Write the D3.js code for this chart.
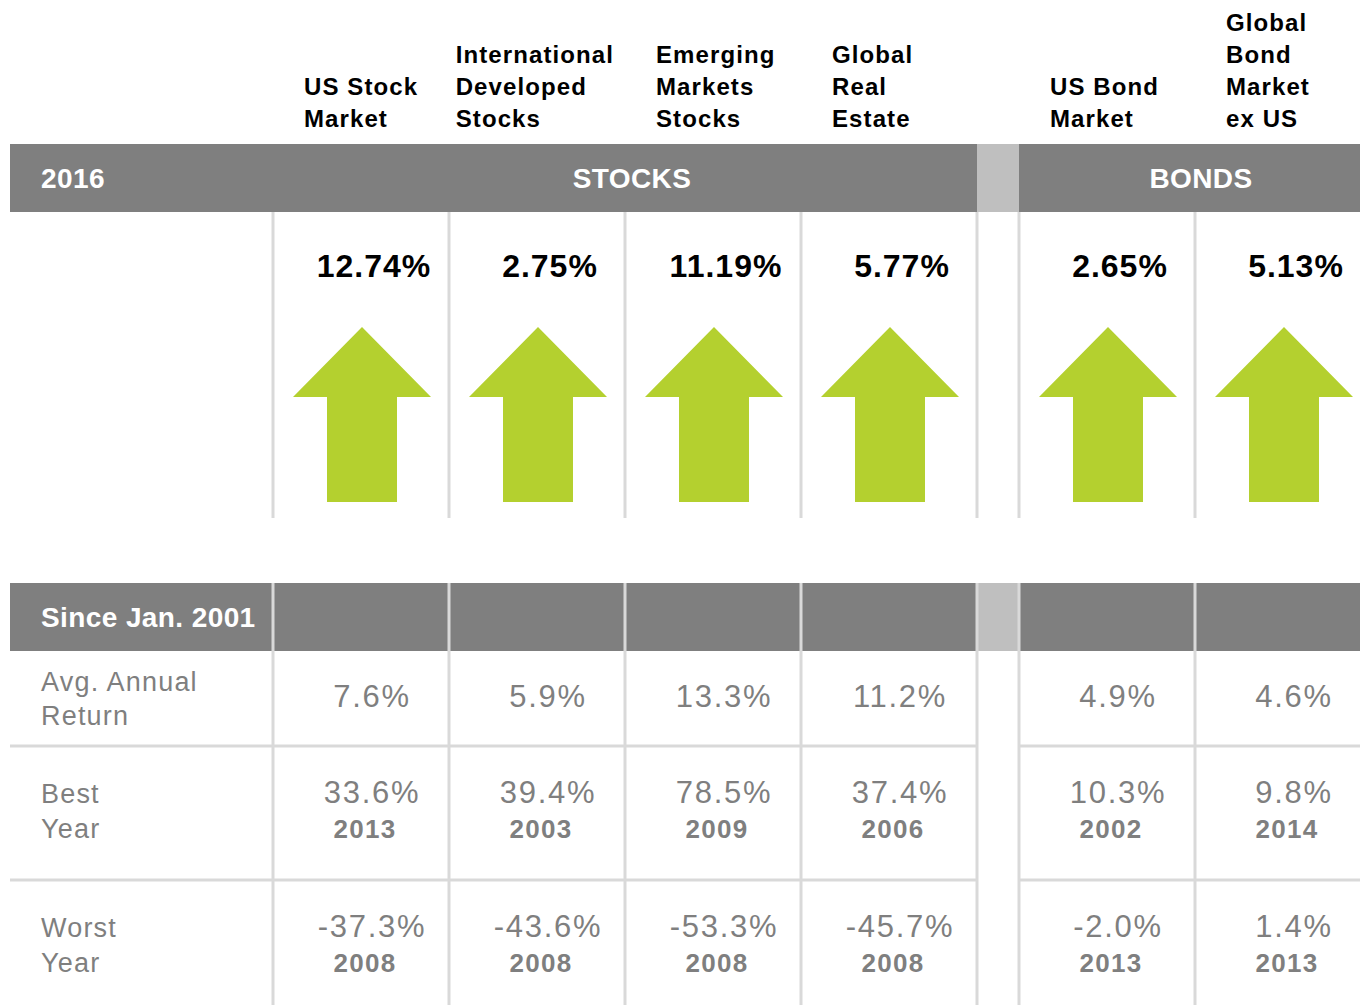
<!DOCTYPE html>
<html>
<head>
<meta charset="utf-8">
<script src="https://cdn.jsdelivr.net/npm/d3@7"></script>
<style>
  body { margin: 0; background: #fff; }
  svg text { font-family: "Liberation Sans", Arial, sans-serif; }
</style>
</head>
<body>
<div id="chart"></div>
<script>
// data
var stockNames = ["US Stock Market", "International Developed Stocks", "Emerging Markets Stocks", "Global Real Estate"];
var bondNames = ["US Bond Market", "Global Bond Market ex US"];
var headerLines = [
  ["US Stock", "Market"],
  ["International", "Developed", "Stocks"],
  ["Emerging", "Markets", "Stocks"],
  ["Global", "Real", "Estate"],
  ["US Bond", "Market"],
  ["Global", "Bond", "Market", "ex US"]
];
var return2016 = ["12.74%", "2.75%", "11.19%", "5.77%", "2.65%", "5.13%"];
var avgAnnual = ["7.6%", "5.9%", "13.3%", "11.2%", "4.9%", "4.6%"];
var bestValue = ["33.6%", "39.4%", "78.5%", "37.4%", "10.3%", "9.8%"];
var bestYear = ["2013", "2003", "2009", "2006", "2002", "2014"];
var worstValue = ["-37.3%", "-43.6%", "-53.3%", "-45.7%", "-2.0%", "1.4%"];
var worstYear = ["2008", "2008", "2008", "2008", "2013", "2013"];
var rowLabels = [["Avg. Annual", "Return"], ["Best", "Year"], ["Worst", "Year"]];

(function(){
  var width = 1360, height = 1005;
  var dark = "#7f7f7f", light = "#bfbfbf", rule = "#d9d9d9", green = "#b4d02f";

  var svg = d3.select("#chart").append("svg")
    .attr("width", width)
    .attr("height", height);

  // columns: stocks block, a gap, bonds block
  var xStock = d3.scaleBand().domain(stockNames).range([273, 977]);
  var xBond = d3.scaleBand().domain(bondNames).range([1019, 1371]);
  var allNames = stockNames.concat(bondNames);
  function colX(i){
    var n = allNames[i];
    return i < stockNames.length ? xStock(n) : xBond(n);
  }
  var colW = xStock.bandwidth();
  function colC(i){ return colX(i) + colW / 2; }

  var band1 = {y: 144, h: 68};
  var band2 = {y: 583, h: 68};
  var rowTops = [651, 746, 880, 1005];

  // header bands
  [band1, band2].forEach(function(b){
    svg.append("rect").attr("x", 10).attr("y", b.y).attr("width", width - 10).attr("height", b.h).attr("fill", dark);
    svg.append("rect").attr("x", xStock.range()[1]).attr("y", b.y).attr("width", xBond.range()[0] - xStock.range()[1]).attr("height", b.h).attr("fill", light);
  });

  // vertical rules
  var lineXs = stockNames.map(function(n){ return xStock(n); }).concat([xStock.range()[1]]).concat(bondNames.map(function(n){ return xBond(n); }));
  svg.selectAll(".vtop").data(lineXs).enter().append("line")
    .attr("x1", function(d){ return d; }).attr("x2", function(d){ return d; })
    .attr("y1", band1.y + band1.h).attr("y2", 518)
    .attr("stroke", rule).attr("stroke-width", 3);
  svg.selectAll(".vbot").data(lineXs).enter().append("line")
    .attr("x1", function(d){ return d; }).attr("x2", function(d){ return d; })
    .attr("y1", band2.y).attr("y2", height)
    .attr("stroke", rule).attr("stroke-width", 3);

  // horizontal rules between rows (skip the gap)
  [rowTops[1], rowTops[2]].forEach(function(y){
    svg.append("line").attr("x1", 10).attr("x2", xStock.range()[1]).attr("y1", y).attr("y2", y)
      .attr("stroke", rule).attr("stroke-width", 3);
    svg.append("line").attr("x1", xBond.range()[0]).attr("x2", width).attr("y1", y).attr("y2", y)
      .attr("stroke", rule).attr("stroke-width", 3);
  });

  // column headers, bottom aligned
  headerLines.forEach(function(lines, i){
    var g = svg.append("g");
    var n = lines.length;
    var t = g.selectAll("text").data(lines).enter().append("text")
      .attr("y", function(d, j){ return 127 - (n - 1 - j) * 32; })
      .attr("font-size", 24).attr("font-weight", "bold").attr("letter-spacing", 1.1)
      .attr("fill", "#000")
      .text(function(d){ return d; });
    var w = d3.max(t.nodes(), function(nd){ return nd.getComputedTextLength(); });
    var off = Math.min(31, colW - w - 11);
    t.attr("x", colX(i) + off);
  });

  // band titles
  function bandTitle(x, y, anchor, txt){
    svg.append("text").attr("x", x).attr("y", y).attr("fill", "#fff")
      .attr("text-anchor", anchor).attr("font-size", 28).attr("font-weight", "bold").attr("letter-spacing", 0.4)
      .text(txt);
  }
  bandTitle(41, 188, "start", "2016");
  bandTitle((xStock.range()[0] + xStock.range()[1]) / 2 + 7, 188, "middle", "STOCKS");
  bandTitle((xBond.range()[0] + xBond.range()[1]) / 2 + 6, 188, "middle", "BONDS");
  bandTitle(41, 627, "start", "Since Jan. 2001");

  // 2016 returns
  svg.selectAll(".ret").data(return2016).enter().append("text")
    .attr("x", function(d, i){ return colC(i) + 13; })
    .attr("y", 277)
    .attr("text-anchor", "middle").attr("font-size", 32).attr("font-weight", "bold").attr("letter-spacing", 1)
    .attr("fill", "#000")
    .text(function(d){ return d; });

  // up arrows
  var tipY = 327, headY = 397, baseY = 502, headHalf = 69, shaftHalf = 35;
  svg.selectAll(".arrow").data(return2016).enter().append("path")
    .attr("fill", green)
    .attr("d", function(d, i){
      var c = colC(i) + 1;
      return "M" + c + "," + tipY +
        "L" + (c + headHalf) + "," + headY +
        "L" + (c + shaftHalf) + "," + headY +
        "L" + (c + shaftHalf) + "," + baseY +
        "L" + (c - shaftHalf) + "," + baseY +
        "L" + (c - shaftHalf) + "," + headY +
        "L" + (c - headHalf) + "," + headY + "Z";
    });

  // row labels
  var labelBase = [[691, 725], [803, 838], [937, 972]];
  rowLabels.forEach(function(lines, r){
    svg.selectAll(".lab" + r).data(lines).enter().append("text")
      .attr("x", 41)
      .attr("y", function(d, j){ return labelBase[r][j]; })
      .attr("font-size", 27).attr("letter-spacing", 1.2).attr("fill", dark)
      .text(function(d){ return d; });
  });

  // values
  function valueRow(data, y){
    svg.selectAll(null).data(data).enter().append("text")
      .attr("x", function(d, i){ return colC(i) + 11; })
      .attr("y", y)
      .attr("text-anchor", "middle").attr("font-size", 31).attr("letter-spacing", 1.7).attr("fill", dark)
      .text(function(d){ return d; });
  }
  function yearRow(data, y){
    svg.selectAll(null).data(data).enter().append("text")
      .attr("x", function(d, i){ return colC(i) + 4; })
      .attr("y", y)
      .attr("text-anchor", "middle").attr("font-size", 26).attr("font-weight", "bold").attr("letter-spacing", 1.3).attr("fill", dark)
      .text(function(d){ return d; });
  }
  valueRow(avgAnnual, 707);
  valueRow(bestValue, 803);
  yearRow(bestYear, 838);
  valueRow(worstValue, 937);
  yearRow(worstYear, 972);
})();
</script>
</body>
</html>
